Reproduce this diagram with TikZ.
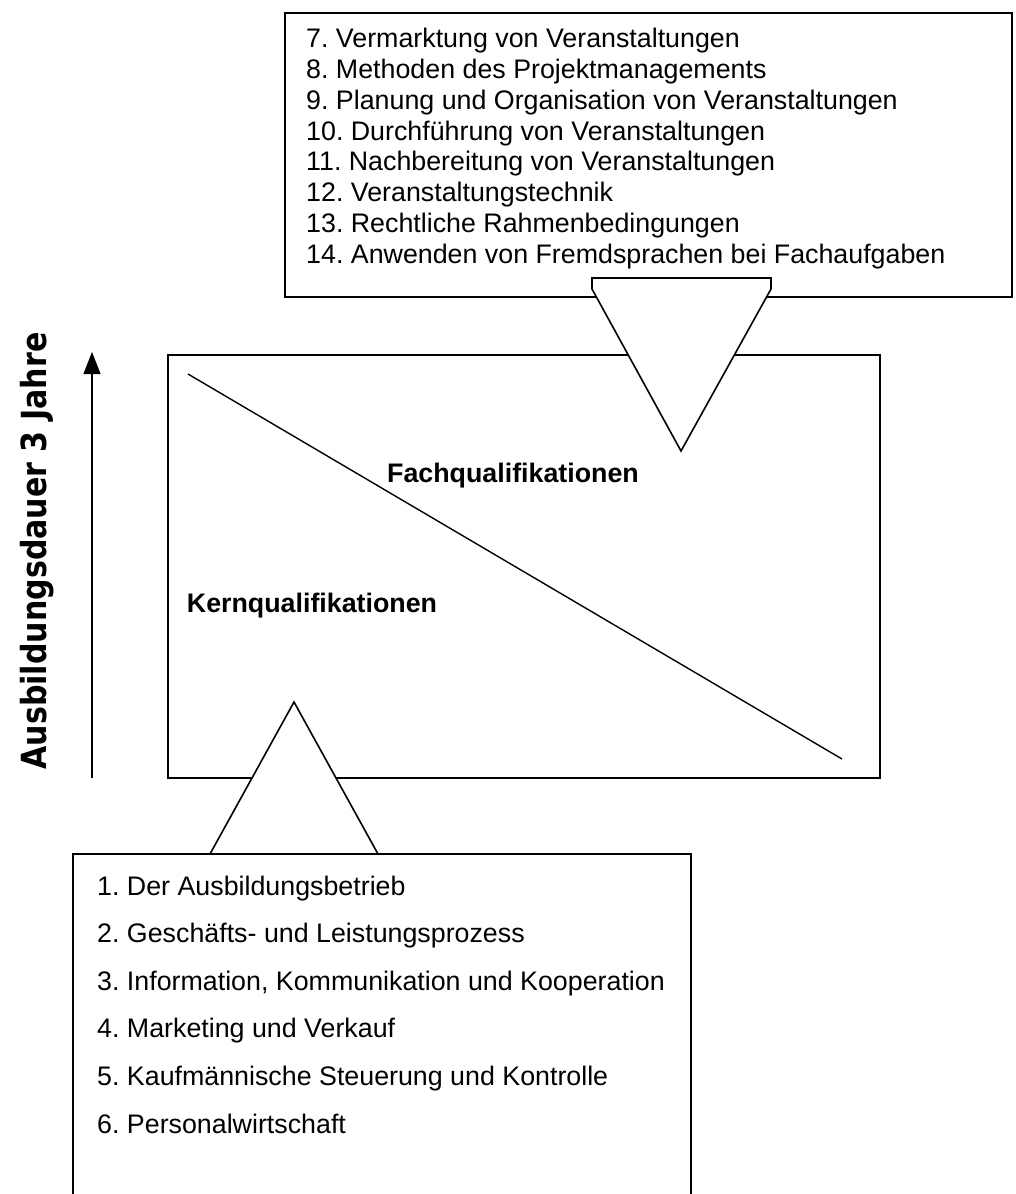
\documentclass[tikz,border=0pt]{standalone}
\usepackage{fontspec}
\usepackage{graphicx}
\setmainfont{Liberation Sans}
\newfontfamily\handfont{DejaVu Sans}
\usetikzlibrary{arrows.meta}
\frenchspacing
\begin{document}
\begin{tikzpicture}[x=1pt,y=-1pt,
  frame/.style={draw=black,line width=1.6pt,fill=white,line join=miter},
  item/.style={anchor=base west,inner sep=0pt,font=\frenchspacing\fontsize{26.8}{30}\selectfont},
  biglabel/.style={inner sep=0pt,font=\fontsize{26.8}{30}\selectfont\bfseries}]
\useasboundingbox (0,0) rectangle (1015,1194);

% top box
\draw[frame] (285,13) rectangle (1012,297);
\foreach \t [count=\i from 0] in {7. Vermarktung von Veranstaltungen,
  8. Methoden des Projektmanagements,
  9. Planung und Organisation von Veranstaltungen,
  10. Durchführung von Veranstaltungen,
  11. Nachbereitung von Veranstaltungen,
  12. Veranstaltungstechnik,
  13. Rechtliche Rahmenbedingungen,
  14. Anwenden von Fremdsprachen bei Fachaufgaben}
  \node[item] (top\i) at (306,{47.7+30.8*\i}) {\t};

% main rectangle
\draw[frame] (168,355) rectangle (880,778);
\coordinate (d1) at (188,374);
\coordinate (d2) at (842,759);
\draw[line width=1.4pt] (d1) -- (d2);
\node[biglabel] (fach) at (513,476) {Fachqualifikationen};
\node[biglabel] (kern) at (312,606) {Kernqualifikationen};

% top pointer
\draw[frame] (592,278) -- (771,278) -- (771,289) -- (681,451) -- (592,289) -- cycle;

% bottom box (runs past the lower edge)
\draw[frame] (73,1200) -- (73,854) -- (691,854) -- (691,1200);
\foreach \t [count=\i from 0] in {1. Der Ausbildungsbetrieb,
  2. Geschäfts- und Leistungsprozess,
  3. Information{,} Kommunikation und Kooperation,
  4. Marketing und Verkauf,
  5. Kaufmännische Steuerung und Kontrolle,
  6. Personalwirtschaft}
  \node[item] (bot\i) at (97,{895+47.6*\i}) {\t};

% bottom pointer
\draw[frame] (294,702) -- (378,854) -- (210,854) -- cycle;

% time arrow
\coordinate (a0) at (92,778);
\coordinate (a1) at (92,352);
\draw[line width=1.4pt,-{Triangle[length=22pt,width=17pt]}] (a0) -- (a1);
\node[rotate=90,inner sep=0pt] (dauer) at (37,551)
  {\scalebox{1}[1.15]{\resizebox{437pt}{!}{\handfont\bfseries Ausbildungsdauer 3 Jahre}}};
\end{tikzpicture}
\end{document}
